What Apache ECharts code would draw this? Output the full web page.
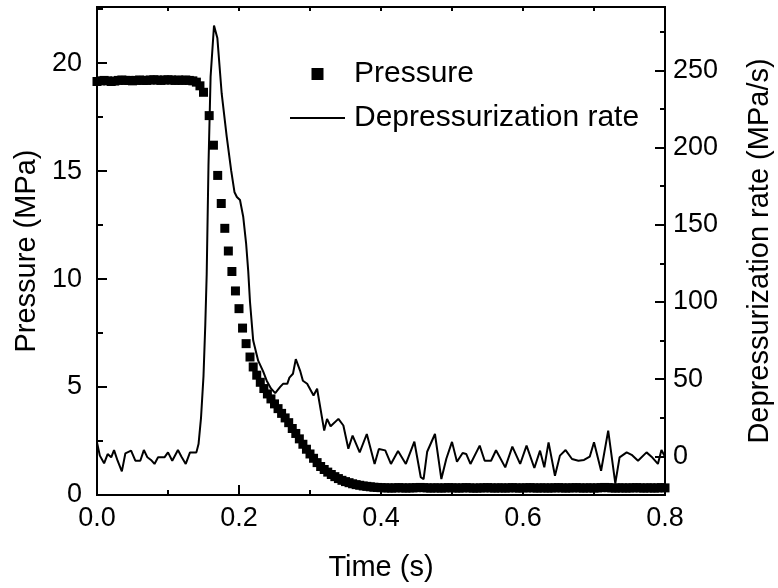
<!DOCTYPE html>
<html>
<head>
<meta charset="utf-8">
<script src="https://cdn.jsdelivr.net/npm/echarts@6/dist/echarts.min.js"></script>
<style>
html, body { margin: 0; padding: 0; background: #fff; }
#container { width: 778px; height: 588px; }
</style>
</head>
<body>
<div id="container"></div>
<script>
// pressure (MPa), square markers
var pressureTime = [
    0.000, 0.005, 0.010, 0.015, 0.020, 0.025, 0.030, 0.035, 0.040, 0.045,
    0.050, 0.055, 0.060, 0.065, 0.070, 0.075, 0.080, 0.085, 0.090, 0.095,
    0.100, 0.105, 0.110, 0.115, 0.120, 0.125, 0.130, 0.135, 0.140, 0.145,
    0.150, 0.158, 0.164, 0.170, 0.175, 0.180, 0.185, 0.190, 0.195, 0.200,
    0.205, 0.210, 0.2155, 0.220, 0.225, 0.230, 0.235, 0.240, 0.245, 0.250,
    0.255, 0.260, 0.265, 0.270, 0.275, 0.280, 0.285, 0.290, 0.295, 0.300,
    0.305, 0.310, 0.315, 0.320, 0.325, 0.330, 0.335, 0.340, 0.345, 0.350,
    0.355, 0.360, 0.365, 0.370, 0.375, 0.380, 0.385, 0.390, 0.395, 0.400,
    0.405, 0.410, 0.415, 0.420, 0.425, 0.430, 0.435, 0.440, 0.445, 0.450,
    0.455, 0.460, 0.465, 0.470, 0.475, 0.480, 0.485, 0.490, 0.495, 0.500,
    0.505, 0.510, 0.515, 0.520, 0.525, 0.530, 0.535, 0.540, 0.545, 0.550,
    0.555, 0.560, 0.565, 0.570, 0.575, 0.580, 0.585, 0.590, 0.595, 0.600,
    0.605, 0.610, 0.615, 0.620, 0.625, 0.630, 0.635, 0.640, 0.645, 0.650,
    0.655, 0.660, 0.665, 0.670, 0.675, 0.680, 0.685, 0.690, 0.695, 0.700,
    0.705, 0.710, 0.715, 0.720, 0.725, 0.730, 0.735, 0.740, 0.745, 0.750,
    0.755, 0.760, 0.765, 0.770, 0.775, 0.780, 0.785, 0.790, 0.795, 0.800
];
var pressureMPa = [
    19.15, 19.18, 19.2, 19.18, 19.15, 19.17, 19.2, 19.22, 19.2, 19.2,
    19.18, 19.2, 19.22, 19.2, 19.2, 19.22, 19.23, 19.22, 19.2, 19.22,
    19.23, 19.22, 19.2, 19.22, 19.2, 19.22, 19.2, 19.18, 19.12, 18.95,
    18.65, 17.57, 16.2, 14.8, 13.5, 12.35, 11.3, 10.35, 9.45, 8.63,
    7.73, 7.01, 6.39, 5.93, 5.55, 5.22, 4.93, 4.68, 4.45, 4.22,
    4.0, 3.78, 3.57, 3.35, 3.08, 2.85, 2.6, 2.35, 2.12, 1.9,
    1.7, 1.5, 1.32, 1.18, 1.06, 0.95, 0.85, 0.76, 0.68, 0.62,
    0.57, 0.52, 0.48, 0.45, 0.42, 0.4, 0.38, 0.36, 0.35, 0.34,
    0.33, 0.33, 0.32, 0.33, 0.34, 0.33, 0.32, 0.33, 0.33, 0.34,
    0.35, 0.34, 0.33, 0.32, 0.33, 0.33, 0.32, 0.33, 0.34, 0.33,
    0.33, 0.32, 0.33, 0.34, 0.33, 0.32, 0.32, 0.33, 0.33, 0.34,
    0.33, 0.32, 0.33, 0.33, 0.32, 0.33, 0.34, 0.33, 0.32, 0.33,
    0.33, 0.34, 0.33, 0.32, 0.33, 0.33, 0.32, 0.33, 0.33, 0.34,
    0.33, 0.32, 0.33, 0.33, 0.34, 0.33, 0.32, 0.33, 0.33, 0.32,
    0.33, 0.34, 0.35, 0.34, 0.33, 0.32, 0.33, 0.33, 0.32, 0.33,
    0.33, 0.34, 0.33, 0.32, 0.33, 0.33, 0.32, 0.33, 0.34, 0.33
];

// depressurization rate (MPa/s), solid line
var rateTime = [
    0.000, 0.004, 0.010, 0.015, 0.020, 0.024, 0.029, 0.035, 0.040, 0.048,
    0.054, 0.061, 0.066, 0.071, 0.076, 0.081, 0.086, 0.095, 0.100, 0.106,
    0.114, 0.119, 0.125, 0.131, 0.140, 0.143, 0.1465, 0.150, 0.1525, 0.1545,
    0.157, 0.160, 0.1648, 0.1695, 0.1756, 0.1827, 0.189, 0.1937, 0.197, 0.2014,
    0.206, 0.210, 0.213, 0.2155, 0.220, 0.227, 0.234, 0.239, 0.245, 0.251,
    0.258, 0.262, 0.268, 0.271, 0.276, 0.280, 0.286, 0.290, 0.296, 0.305,
    0.310, 0.320, 0.324, 0.329, 0.340, 0.347, 0.354, 0.360, 0.370, 0.380,
    0.391, 0.397, 0.406, 0.414, 0.424, 0.435, 0.447, 0.456, 0.460, 0.465,
    0.476, 0.485, 0.492, 0.500, 0.507, 0.515, 0.520, 0.526, 0.539, 0.546,
    0.555, 0.562, 0.575, 0.585, 0.596, 0.605, 0.616, 0.624, 0.630, 0.636,
    0.645, 0.652, 0.660, 0.669, 0.678, 0.686, 0.694, 0.700, 0.710, 0.720,
    0.730, 0.736, 0.746, 0.753, 0.762, 0.774, 0.781, 0.790, 0.795, 0.800
];
var rateMPaS = [
    9, 0.5, -4.5, 1.5, -0.6, 4.1, -2.8, -9.7, 2, 3.7,
    -2.8, -2.8, 4.1, -0.6, -2.3, -4.9, -0.6, -0.6, 2.6, -2.8,
    4.1, -0.2, -4.9, 2.6, 2.6, 8, 25, 52, 85, 118,
    188, 246, 279, 271, 235, 207, 185, 171, 168, 166,
    155, 138, 120, 100, 75, 62, 55, 49, 44, 41,
    45, 47, 47, 51, 53.5, 63, 55.6, 49, 47, 39.4,
    43.8, 16.7, 24.3, 19.5, 24.3, 20, 5, 13.5, 2.6, 14.5,
    -4.9, 4.8, 3.9, -4.9, 3.5, -4.9, 9.5, -13.5, -14.7, 3,
    14.5, -14.7, -1.5, 9.4, -3.5, 2.2, 1.6, -4.9, 7, -2.8,
    -2.8, 4, -7.1, 6.3, -4.9, 7, -7.5, 3.7, -7.1, 9.1,
    -12.5, 0.5, 4.1, -1.7, -2.8, -2.3, -0.2, 9.1, -9.3, 16.7,
    -17.5, -0.6, 2.6, 1, -2.8, 2.6, -0.2, -4.9, 4.1, -0.2
];

var seriesNames = ['Pressure', 'Depressurization rate'];
var axisNames = ['Time (s)', 'Pressure (MPa)', 'Depressurization rate (MPa/s)'];

var pressureData = pressureTime.map(function (t, i) { return [t, pressureMPa[i]]; });
var rateData = rateTime.map(function (t, i) { return [t, rateMPaS[i]]; });

var FONT = "'Liberation Sans', Arial, sans-serif";
var black = '#000';
var lineSt = { color: black, width: 2 };

var myChart = echarts.init(document.getElementById('container'), null, { renderer: 'canvas' });

var option = {
    animation: false,
    backgroundColor: '#fff',
    textStyle: { fontFamily: FONT, color: black },
    grid: { left: 97, right: 113, top: 7, bottom: 93, containLabel: false, outerBoundsMode: 'none' },
    legend: {
        orient: 'vertical',
        left: 285,
        top: 54,
        itemWidth: 55,
        itemHeight: 12,
        itemGap: 14,
        textStyle: { fontSize: 30, color: black, fontFamily: FONT, lineHeight: 30, padding: [0, 0, 0, 4] },
        data: [
            { name: seriesNames[0], icon: 'path://M0,0L10,0L10,10L0,10Z' },
            { name: seriesNames[1], icon: 'path://M0,0L55,0L55,2L0,2Z' }
        ]
    },
    xAxis: [
        {
            type: 'value', position: 'bottom', min: 0, max: 0.8, interval: 0.2,
            axisLine: { onZero: false, lineStyle: lineSt },
            axisTick: { inside: true, length: 10, lineStyle: lineSt },
            minorTick: { show: true, splitNumber: 2, length: 5, lineStyle: lineSt },
            splitLine: { show: false },
            axisLabel: { fontSize: 27, color: black, margin: 10, fontFamily: FONT,
                formatter: function (v) { return v.toFixed(1); } },
            name: axisNames[0], nameLocation: 'middle', nameGap: 58,
            nameTextStyle: { fontSize: 29, color: black, fontFamily: FONT }
        },
        {
            type: 'value', position: 'top', min: 0, max: 0.8, interval: 0.1,
            axisLine: { onZero: false, lineStyle: lineSt },
            axisTick: { inside: true, length: 4, lineStyle: lineSt },
            axisLabel: { show: false },
            splitLine: { show: false }
        }
    ],
    yAxis: [
        {
            type: 'value', position: 'left', min: 0, max: 22.6, interval: 5,
            axisLine: { onZero: false, lineStyle: lineSt },
            axisTick: { inside: true, length: 10, lineStyle: lineSt },
            splitLine: { show: false },
            axisLabel: { fontSize: 27, color: black, margin: 15, fontFamily: FONT,
                formatter: function (v) { return v % 5 === 0 ? String(v) : ''; } },
            name: axisNames[1], nameLocation: 'middle', nameGap: 49,
            nameTextStyle: { fontSize: 29, color: black, fontFamily: FONT }
        },
        {
            type: 'value', position: 'right', min: -25, max: 291, splitNumber: 5,
            axisLine: { onZero: false, lineStyle: lineSt },
            axisTick: { inside: true, length: 10, lineStyle: lineSt },
            splitLine: { show: false },
            axisLabel: { fontSize: 27, color: black, margin: 8, fontFamily: FONT,
                formatter: function (v) { return v % 50 === 0 ? String(v) : ''; } },
            name: axisNames[2], nameLocation: 'middle', nameGap: 80,
            nameTextStyle: { fontSize: 29, color: black, fontFamily: FONT }
        },
        {
            // minor ticks on the left axis
            type: 'value', position: 'left', min: 0, max: 22.6, interval: 2.5,
            axisLine: { onZero: false, lineStyle: lineSt },
            axisTick: { inside: true, length: 6, lineStyle: lineSt },
            axisLabel: { show: false },
            splitLine: { show: false }
        },
        {
            // minor ticks on the right axis
            type: 'value', position: 'right', min: -25, max: 291, interval: 25,
            axisLine: { onZero: false, lineStyle: lineSt },
            axisTick: { inside: true, length: 5, lineStyle: lineSt },
            axisLabel: { show: false },
            splitLine: { show: false }
        }
    ],
    series: [
        {
            name: seriesNames[0],
            type: 'scatter',
            xAxisIndex: 0,
            yAxisIndex: 0,
            symbol: 'rect',
            symbolSize: 9,
            itemStyle: { color: black, opacity: 1 },
            data: pressureData
        },
        {
            name: seriesNames[1],
            type: 'line',
            xAxisIndex: 0,
            yAxisIndex: 1,
            symbol: 'none',
            showSymbol: false,
            lineStyle: { color: black, width: 2 },
            itemStyle: { color: black },
            data: rateData
        }
    ]
};

myChart.setOption(option);
</script>
</body>
</html>
